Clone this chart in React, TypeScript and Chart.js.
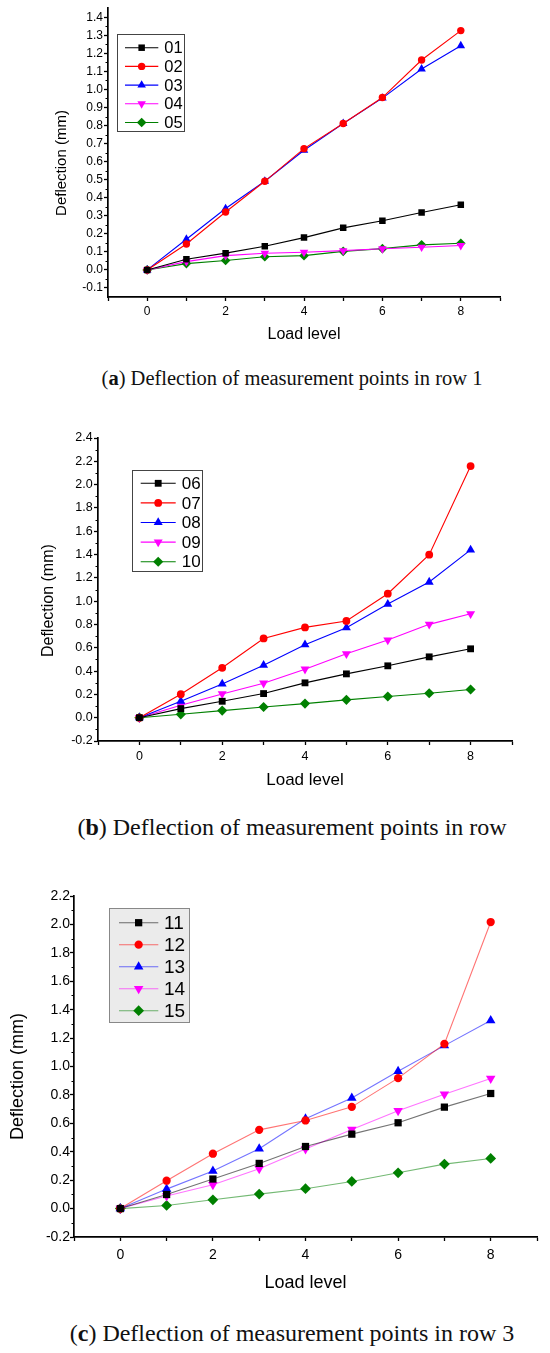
import { useEffect, useRef } from "react";
import { Chart, registerables } from "chart.js";
import { drawPoint } from "chart.js/helpers";

Chart.register(...registerables);
Chart.defaults.font.family = '"Liberation Sans", Arial, sans-serif';
Chart.defaults.color = "#000";

// shared axis values
const loadLevels = [0, 1, 2, 3, 4, 5, 6, 7, 8];
const xTickValues = [-1, 0, 1, 2, 3, 4, 5, 6, 7, 8, 9];
const xTickLabels = [0, 2, 4, 6, 8];

// row 1
const row1Names = ["01", "02", "03", "04", "05"];
const p01 = [0, 0.059, 0.093, 0.131, 0.179, 0.233, 0.272, 0.318, 0.361];
const p02 = [0, 0.144, 0.321, 0.491, 0.672, 0.811, 0.955, 1.163, 1.326];
const p03 = [0, 0.17, 0.34, 0.491, 0.663, 0.811, 0.952, 1.113, 1.242];
const p04 = [0, 0.046, 0.079, 0.092, 0.098, 0.107, 0.117, 0.126, 0.135];
const p05 = [0, 0.035, 0.052, 0.073, 0.079, 0.103, 0.118, 0.139, 0.148];
const row1YTicks = [-0.1, 0, 0.1, 0.2, 0.3, 0.4, 0.5, 0.6, 0.7, 0.8, 0.9, 1.0, 1.1, 1.2, 1.3, 1.4];

// row 2
const row2Names = ["06", "07", "08", "09", "10"];
const p06 = [0, 0.078, 0.141, 0.207, 0.299, 0.376, 0.445, 0.522, 0.591];
const p07 = [0, 0.201, 0.428, 0.68, 0.775, 0.83, 1.064, 1.399, 2.159];
const p08 = [0, 0.141, 0.29, 0.451, 0.626, 0.772, 0.975, 1.164, 1.44];
const p09 = [0, 0.107, 0.204, 0.296, 0.416, 0.548, 0.666, 0.801, 0.892];
const p10 = [0, 0.029, 0.061, 0.092, 0.121, 0.153, 0.182, 0.21, 0.242];
const row2YTicks = [-0.2, 0, 0.2, 0.4, 0.6, 0.8, 1.0, 1.2, 1.4, 1.6, 1.8, 2.0, 2.2, 2.4];

// row 3
const row3Names = ["11", "12", "13", "14", "15"];
const p11 = [0, 0.099, 0.208, 0.318, 0.437, 0.524, 0.604, 0.714, 0.81];
const p12 = [0, 0.196, 0.386, 0.554, 0.62, 0.716, 0.918, 1.159, 2.017];
const p13 = [0, 0.137, 0.264, 0.421, 0.632, 0.779, 0.967, 1.147, 1.323];
const p14 = [0, 0.088, 0.168, 0.28, 0.419, 0.557, 0.688, 0.805, 0.915];
const p15 = [0, 0.022, 0.062, 0.102, 0.14, 0.191, 0.252, 0.313, 0.353];
const row3YTicks = [-0.2, 0, 0.2, 0.4, 0.6, 0.8, 1.0, 1.2, 1.4, 1.6, 1.8, 2.0, 2.2];

const seriesColors = ["0,0,0", "255,0,0", "0,0,255", "255,0,255", "0,128,0"];
const markerStyles = ["rect", "circle", "triangle", "triangle", "rectRot"];
const markerRotation = [0, 0, 0, 180, 0];
const markerRadius = [4.1, 3.3, 4.4, 4.4, 4.3];

// short minor ticks half way between labelled ticks
const minorTicksPlugin = {
  id: "minorTicks",
  afterDraw(chart: any, _args: any, opts: any) {
    const y = chart.scales.y;
    const ctx = chart.ctx;
    const ticks: number[] = opts.values || [];
    ctx.save();
    ctx.strokeStyle = "#000";
    ctx.lineWidth = 1.2;
    ctx.beginPath();
    for (let i = 0; i < ticks.length - 1; i++) {
      const py = Math.round(y.getPixelForValue((ticks[i] + ticks[i + 1]) / 2)) + 0.5;
      ctx.moveTo(y.right - 2.5, py);
      ctx.lineTo(y.right, py);
    }
    ctx.stroke();
    ctx.restore();
  },
};

// boxed legend drawn inside the plot, Origin style
const boxLegendPlugin = {
  id: "boxLegend",
  afterDraw(chart: any, _args: any, o: any) {
    const ctx = chart.ctx;
    ctx.save();
    ctx.fillStyle = o.fill;
    ctx.fillRect(o.x, o.y, o.w, o.h);
    ctx.strokeStyle = o.stroke;
    ctx.lineWidth = 1;
    ctx.strokeRect(o.x + 0.5, o.y + 0.5, o.w, o.h);
    chart.data.datasets.forEach((ds: any, i: number) => {
      const cy = o.rowY + i * o.rowH;
      ctx.strokeStyle = ds.borderColor;
      ctx.lineWidth = ds.borderWidth;
      ctx.beginPath();
      ctx.moveTo(o.lineX0, cy);
      ctx.lineTo(o.lineX1, cy);
      ctx.stroke();
      ctx.fillStyle = ds.pointBackgroundColor;
      drawPoint(
        ctx,
        { pointStyle: ds.pointStyle, rotation: ds.pointRotation, radius: ds.pointRadius, borderWidth: 0 },
        (o.lineX0 + o.lineX1) / 2,
        cy
      );
      ctx.fillStyle = "#000";
      ctx.font = `${o.fontSize}px "Liberation Sans", Arial, sans-serif`;
      ctx.textBaseline = "middle";
      ctx.textAlign = "left";
      ctx.fillText(ds.label, o.textX, cy + 1);
    });
    ctx.restore();
  },
};

type PanelProps = {
  top: number;
  height: number;
  area: { left: number; right: number; top: number; bottom: number };
  yMin: number;
  yMax: number;
  yTicks: number[];
  names: string[];
  series: number[][];
  tickSize: number;
  yTickPad: number;
  xTickPad: number;
  yTitleSize: number;
  yTitlePad: number;
  yTitleShift: string;
  xTitleSize: number;
  xTitlePad: number;
  lineAlpha: number;
  markerScale: number;
  legend: any;
};

function DeflectionPanel(p: PanelProps) {
  const chartRef = useRef<HTMLCanvasElement>(null);

  useEffect(() => {
    if (!chartRef.current) return;

    const datasets = p.series.map((vals, i) => ({
      label: p.names[i],
      data: loadLevels.map((x, j) => ({ x, y: vals[j] })),
      borderColor: `rgba(${seriesColors[i]},${p.lineAlpha})`,
      backgroundColor: `rgb(${seriesColors[i]})`,
      pointBackgroundColor: `rgb(${seriesColors[i]})`,
      pointBorderWidth: 0,
      pointStyle: markerStyles[i],
      pointRotation: markerRotation[i],
      pointRadius: markerRadius[i] * p.markerScale,
      borderWidth: 1.1,
      tension: 0,
    }));

    const chart = new Chart(chartRef.current, {
      type: "line",
      data: { datasets },
      plugins: [minorTicksPlugin, boxLegendPlugin],
      options: {
        animation: false,
        responsive: true,
        maintainAspectRatio: false,
        layout: { padding: { left: 0, top: p.area.top, right: 550 - p.area.right, bottom: 0 } },
        plugins: {
          legend: { display: false },
          tooltip: { enabled: false },
          minorTicks: { values: p.yTicks },
          boxLegend: p.legend,
        } as any,
        scales: {
          x: {
            type: "linear",
            min: -1,
            max: 9,
            afterFit: (s: any) => {
              s.height = p.height - p.area.bottom;
            },
            afterBuildTicks: (s: any) => {
              s.ticks = xTickValues.map((v) => ({ value: v }));
            },
            ticks: {
              autoSkip: false,
              maxRotation: 0,
              padding: p.xTickPad,
              color: "#000",
              font: { size: p.tickSize },
              callback: (v: any) => (xTickLabels.includes(Number(v)) ? String(v) : ""),
            },
            grid: { drawOnChartArea: false, drawTicks: true, tickLength: 4, tickColor: "#000", tickWidth: 1.3 },
            border: { display: true, color: "#000", width: 1.7 },
            title: {
              display: true,
              text: "Load level",
              color: "#000",
              font: { size: p.xTitleSize },
              padding: { top: 0, bottom: p.xTitlePad },
            },
          },
          y: {
            type: "linear",
            min: p.yMin,
            max: p.yMax,
            afterFit: (s: any) => {
              s.width = p.area.left;
            },
            afterBuildTicks: (s: any) => {
              s.ticks = p.yTicks.map((v) => ({ value: v }));
            },
            ticks: {
              autoSkip: false,
              padding: p.yTickPad,
              color: "#000",
              font: { size: p.tickSize },
              callback: (v: any) => Number(v).toFixed(1),
            },
            grid: { drawOnChartArea: false, drawTicks: true, tickLength: 4, tickColor: "#000", tickWidth: 1.3 },
            border: { display: true, color: "#000", width: 1.7 },
            title: {
              display: true,
              text: "Deflection (mm)" + p.yTitleShift,
              color: "#000",
              font: { size: p.yTitleSize },
              padding: { top: p.yTitlePad, bottom: 0 },
            },
          },
        },
      } as any,
    });

    return () => {
      chart.destroy();
    };
  }, []);

  return (
    <div style={{ position: "absolute", left: 0, top: p.top, width: 550, height: p.height }}>
      <canvas ref={chartRef}></canvas>
    </div>
  );
}

function Caption({ center, size, letter, text }: { center: number; size: number; letter: string; text: string }) {
  return (
    <div
      style={{
        position: "absolute",
        left: 0,
        width: 584,
        top: center - 15,
        height: 30,
        lineHeight: "30px",
        textAlign: "center",
        whiteSpace: "nowrap",
        fontFamily: '"Liberation Serif", "Times New Roman", serif',
        fontSize: size,
        color: "#111",
      }}
    >
      (<b>{letter}</b>) {text}
    </div>
  );
}

export default function App() {
  return (
    <div style={{ position: "absolute", left: 0, top: 0, width: 550, height: 1353, background: "#fff", overflow: "hidden" }}>
      <DeflectionPanel
        top={0}
        height={350}
        area={{ left: 108, right: 500, top: 8, bottom: 297 }}
        yMin={-0.15}
        yMax={1.45}
        yTicks={row1YTicks}
        names={row1Names}
        series={[p01, p02, p03, p04, p05]}
        tickSize={12}
        yTickPad={1}
        xTickPad={3.8}
        yTitleSize={15}
        yTitlePad={52.7}
        yTitleShift="     "
        xTitleSize={16}
        xTitlePad={5.4}
        lineAlpha={1}
        markerScale={1.12}
        legend={{ x: 117, y: 34, w: 67, h: 97, rowY: 47.7, rowH: 18.7, lineX0: 125, lineX1: 158.3, textX: 164.3, fontSize: 16.5, fill: "#fff", stroke: "#444" }}
      />
      <Caption center={378.3} size={20.5} letter="a" text="Deflection of measurement points in row 1" />

      <DeflectionPanel
        top={420}
        height={380}
        area={{ left: 98, right: 512, top: 18, bottom: 321 }}
        yMin={-0.2}
        yMax={2.4}
        yTicks={row2YTicks}
        names={row2Names}
        series={[p06, p07, p08, p09, p10]}
        tickSize={12.5}
        yTickPad={1.3}
        xTickPad={4.2}
        yTitleSize={16}
        yTitlePad={38.7}
        yTitleShift="     "
        xTitleSize={17}
        xTitlePad={9.1}
        lineAlpha={1}
        markerScale={1.18}
        legend={{ x: 132, y: 50, w: 70, h: 101, rowY: 63.3, rowH: 19.6, lineX0: 140.7, lineX1: 175.7, textX: 181.7, fontSize: 17, fill: "#fff", stroke: "#444" }}
      />
      <Caption center={826.7} size={24} letter="b" text="Deflection of measurement points in row" />

      <DeflectionPanel
        top={870}
        height={425}
        area={{ left: 74, right: 537, top: 26, bottom: 367 }}
        yMin={-0.2}
        yMax={2.2}
        yTicks={row3YTicks}
        names={row3Names}
        series={[p11, p12, p13, p14, p15]}
        tickSize={14}
        yTickPad={0}
        xTickPad={5.6}
        yTitleSize={18}
        yTitlePad={7.5}
        yTitleShift="    "
        xTitleSize={18}
        xTitlePad={1.5}
        lineAlpha={0.55}
        markerScale={1.25}
        legend={{ x: 109, y: 38, w: 80, h: 114, rowY: 52.7, rowH: 22, lineX0: 119, lineX1: 158.3, textX: 164, fontSize: 19, fill: "#ebebeb", stroke: "#888" }}
      />
      <Caption center={1333.3} size={24} letter="c" text="Deflection of measurement points in row 3" />
    </div>
  );
}
